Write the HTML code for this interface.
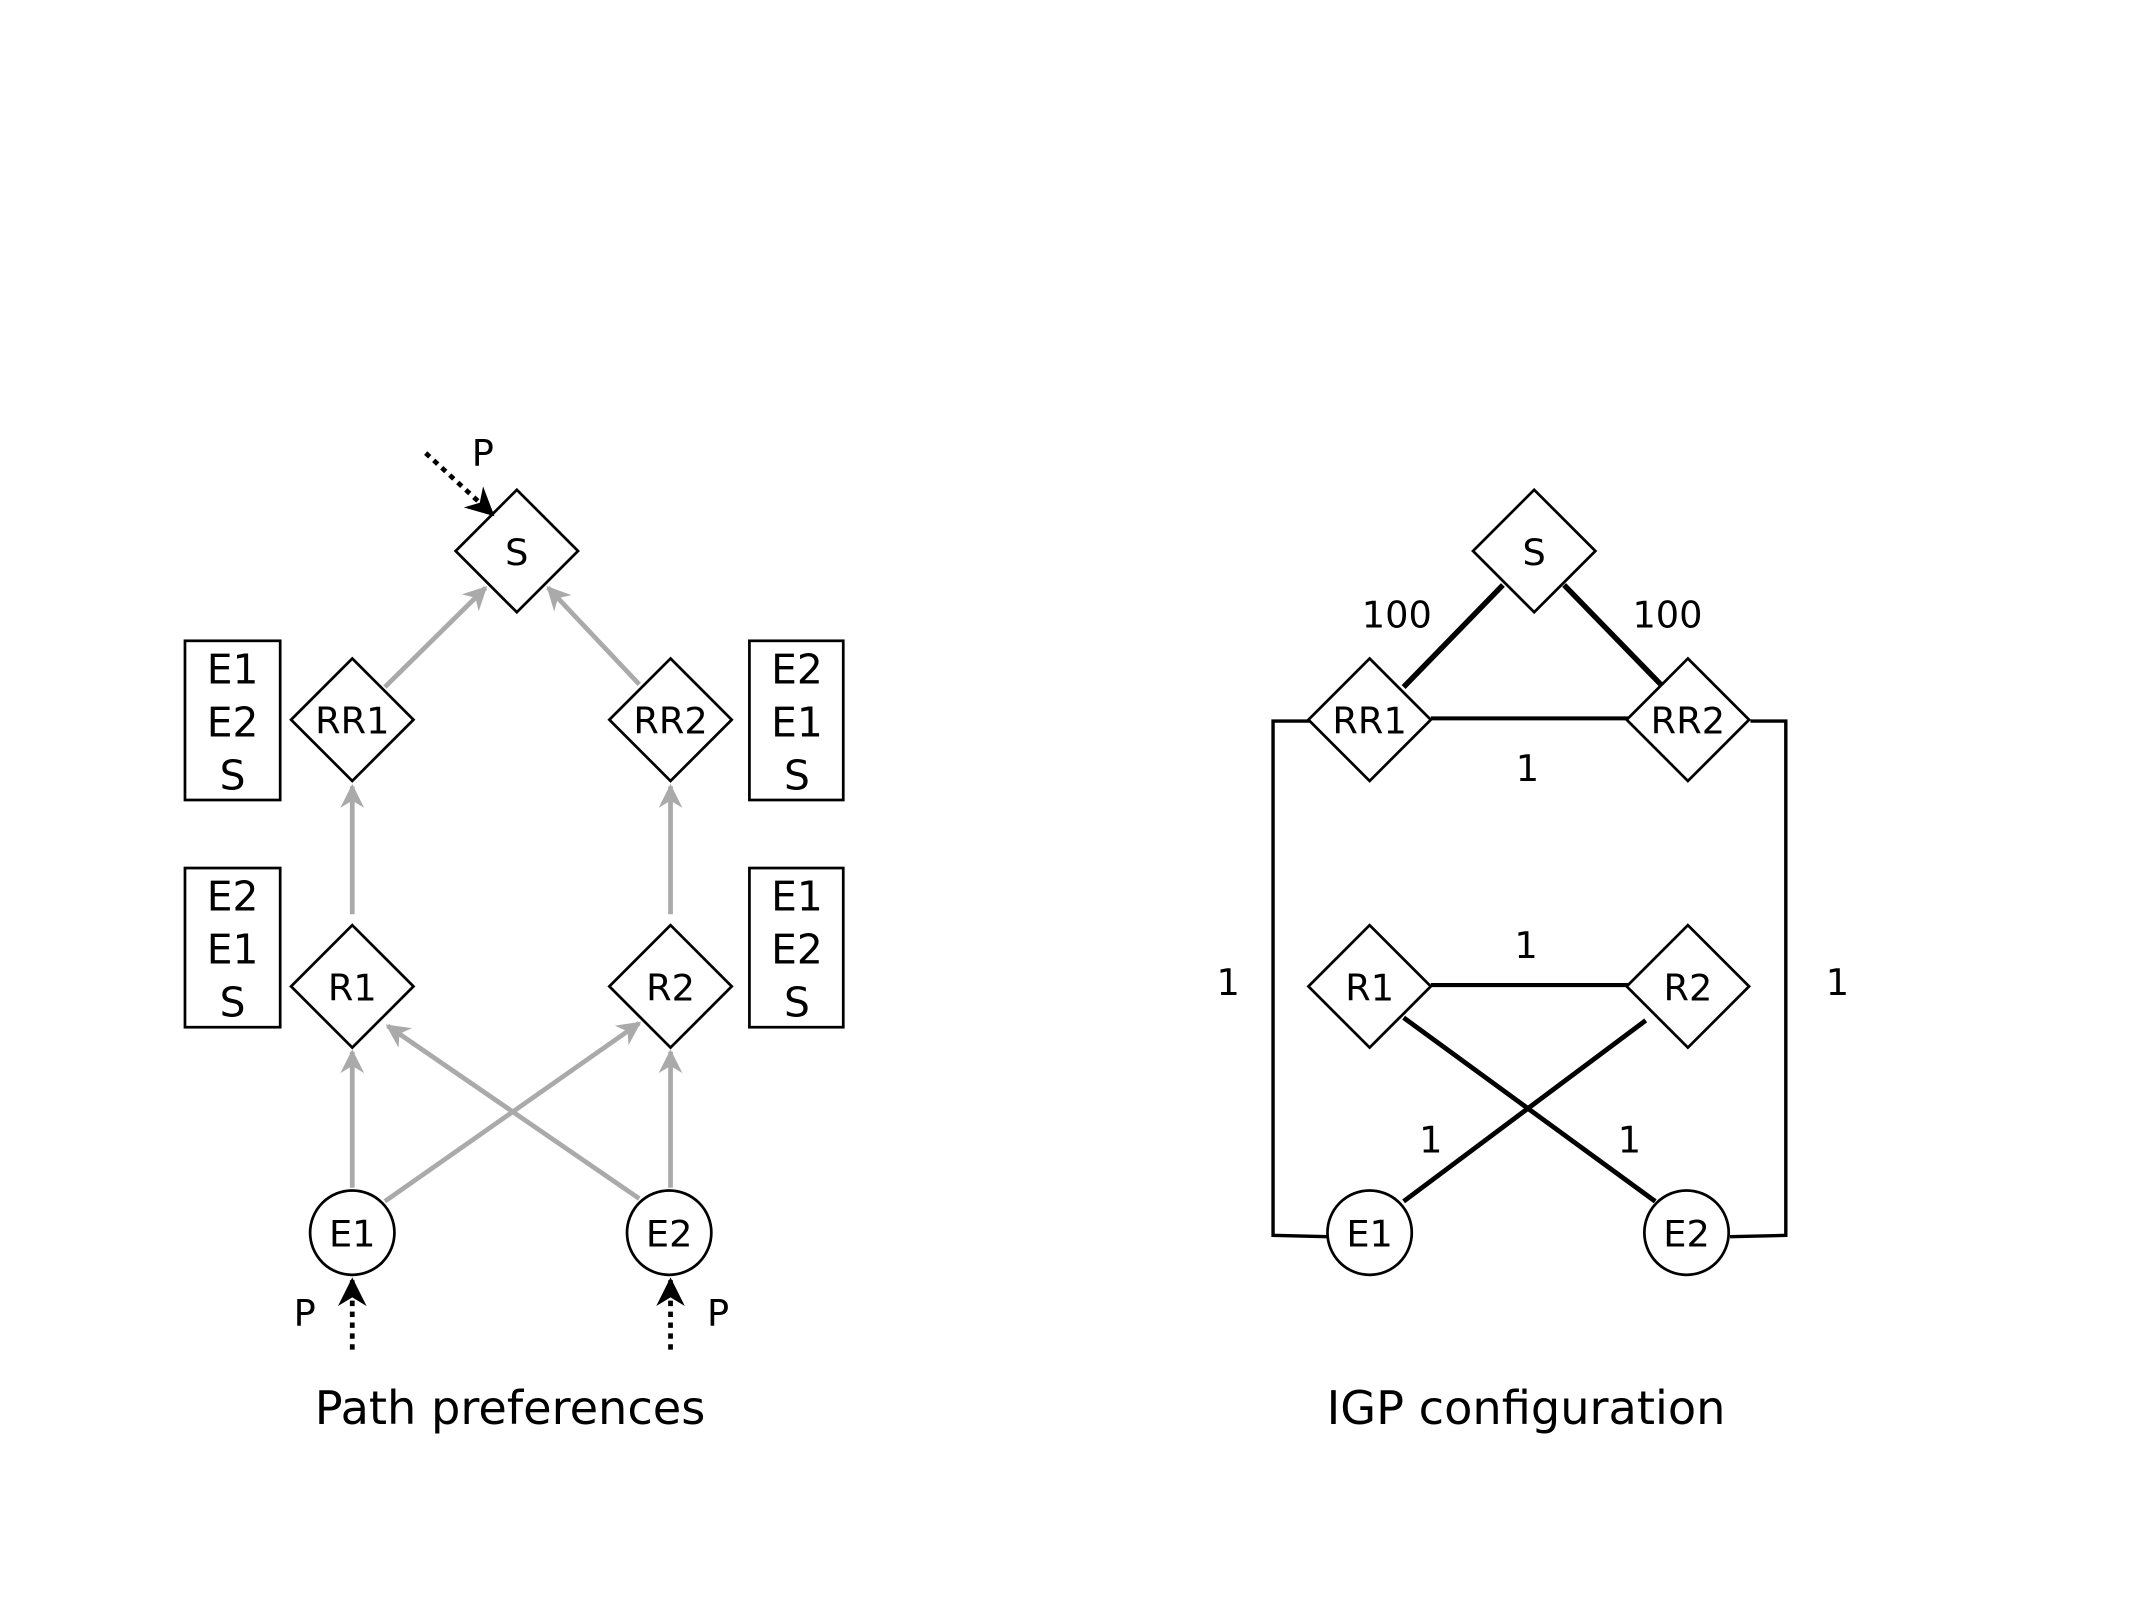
<!DOCTYPE html>
<html><head><meta charset="utf-8"><style>html,body{margin:0;padding:0;background:#fff}svg{display:block}</style></head>
<body>
<svg width="2134" height="1600" viewBox="0 0 1569 1176" preserveAspectRatio="none" xmlns="http://www.w3.org/2000/svg" font-family="DejaVu Sans, Liberation Sans, sans-serif">
<defs>
<marker id="g" viewBox="0 0 10 10" refX="9" refY="5" markerWidth="5" markerHeight="5" orient="auto"><path d="M0,0 L10,5 L0,10 L3,5 z" fill="#aaa"/></marker>
<marker id="b" viewBox="0 0 10 10" refX="9" refY="5" markerWidth="6" markerHeight="6" orient="auto"><path d="M0,0 L10,5 L0,10 L3,5 z" fill="#000"/></marker>
</defs>
<rect width="1569" height="1176" fill="#fff"/>
<g fill="none" stroke="#000" stroke-width="2">
<path d="M380,360 L425,405 L380,450 L335,405 Z"/>
<path d="M259,484 L304,529 L259,574 L214,529 Z"/>
<path d="M493,484 L538,529 L493,574 L448,529 Z"/>
<path d="M259,680 L304,725 L259,770 L214,725 Z"/>
<path d="M493,680 L538,725 L493,770 L448,725 Z"/>
<circle cx="259" cy="906" r="31"/><circle cx="492" cy="906" r="31"/>
<rect x="136" y="471" width="70" height="117"/><rect x="136" y="638" width="70" height="117"/>
<rect x="551" y="471" width="69" height="117"/><rect x="551" y="638" width="69" height="117"/>
<path d="M1128,360 L1173,405 L1128,450 L1083,405 Z"/>
<path d="M1007,484 L1052,529 L1007,574 L962,529 Z"/>
<path d="M1241,484 L1286,529 L1241,574 L1196,529 Z"/>
<path d="M1007,680 L1052,725 L1007,770 L962,725 Z"/>
<path d="M1241,680 L1286,725 L1241,770 L1196,725 Z"/>
<circle cx="1007" cy="906" r="31"/><circle cx="1240" cy="906" r="31"/>
</g>
<g stroke="#aaa" stroke-width="3.5" fill="none" marker-end="url(#g)">
<line x1="283" y1="505" x2="357" y2="432"/>
<line x1="470" y1="503" x2="403" y2="432"/>
<line x1="259" y1="672" x2="259" y2="578"/>
<line x1="493" y1="672" x2="493" y2="578"/>
<line x1="259" y1="873" x2="259" y2="773"/>
<line x1="493" y1="873" x2="493" y2="773"/>
<line x1="283" y1="883" x2="470" y2="752"/>
<line x1="470" y1="881" x2="285" y2="754"/>
</g>
<g stroke="#000" stroke-width="3.5" stroke-dasharray="4,4" fill="none" marker-end="url(#b)">
<line x1="313" y1="333" x2="362" y2="378"/>
<line x1="259" y1="992" x2="259" y2="941"/>
<line x1="493" y1="992" x2="493" y2="941"/>
</g>
<g stroke="#000" fill="none">
<line x1="1105" y1="430" x2="1032" y2="505" stroke-width="4"/>
<line x1="1150" y1="430" x2="1221" y2="503" stroke-width="4"/>
<line x1="1052" y1="528" x2="1197" y2="528" stroke-width="3"/>
<line x1="1052" y1="724" x2="1197" y2="724" stroke-width="3"/>
<line x1="1032" y1="748" x2="1217" y2="883" stroke-width="3.5"/>
<line x1="1210" y1="750" x2="1032" y2="883" stroke-width="3.5"/>
<polyline points="963,530 936,530 936,908 976,909" stroke-width="2.5"/>
<polyline points="1287,530 1313,530 1313,908 1272,909" stroke-width="2.5"/>
</g>
<g font-size="27" fill="#000" text-anchor="middle" dominant-baseline="central">
<text x="380" y="406">S</text><text x="259" y="530">RR1</text><text x="493" y="530">RR2</text>
<text x="259" y="726">R1</text><text x="493" y="726">R2</text>
<text x="259" y="907">E1</text><text x="492" y="907">E2</text>
<g font-size="30">
<text x="171" y="492">E1</text><text x="171" y="531">E2</text><text x="171" y="570">S</text>
<text x="171" y="659">E2</text><text x="171" y="698">E1</text><text x="171" y="737">S</text>
<text x="586" y="492">E2</text><text x="586" y="531">E1</text><text x="586" y="570">S</text>
<text x="586" y="659">E1</text><text x="586" y="698">E2</text><text x="586" y="737">S</text>
</g>
<text x="355" y="333">P</text><text x="224" y="965">P</text><text x="528" y="965">P</text>
<text x="1128" y="406">S</text><text x="1007" y="530">RR1</text><text x="1241" y="530">RR2</text>
<text x="1007" y="726">R1</text><text x="1241" y="726">R2</text>
<text x="1007" y="907">E1</text><text x="1240" y="907">E2</text>
<text x="1027" y="452">100</text><text x="1226" y="452">100</text>
<text x="1123" y="565">1</text><text x="1122" y="695">1</text>
<text x="903" y="722">1</text><text x="1351" y="722">1</text>
<text x="1052" y="838">1</text><text x="1198" y="838">1</text>
<text x="375" y="1035" font-size="34">Path preferences</text>
<text x="1122" y="1035" font-size="34">IGP configuration</text>
</g>
</svg>
</body></html>
